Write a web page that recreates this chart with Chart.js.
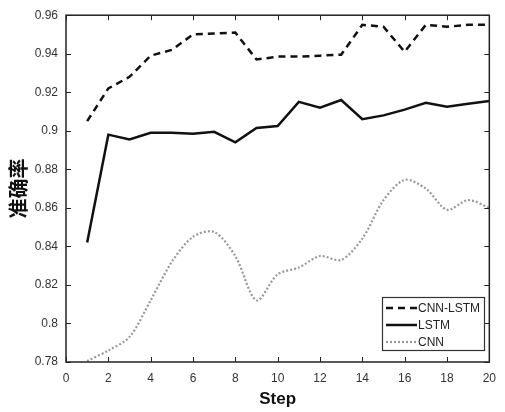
<!DOCTYPE html>
<html><head><meta charset="utf-8">
<script src="https://cdn.jsdelivr.net/npm/chart.js@4"></script>
<style>html,body{margin:0;padding:0;background:#fff}#wrap{width:505px;height:412px}</style>
</head><body><div id="wrap"><canvas id="c" width="505" height="412"></canvas></div>
<script>
const steps = [1,2,3,4,5,6,7,8,9,10,11,12,13,14,15,16,17,18,19,20];
const cnnLstm = [0.905,0.922,0.928,0.939,0.942,0.950,0.9505,0.951,0.937,0.9385,0.9385,0.939,0.9395,0.955,0.954,0.941,0.955,0.954,0.955,0.955];
const lstm = [0.842,0.898,0.8955,0.899,0.899,0.8985,0.8995,0.894,0.9015,0.9025,0.915,0.912,0.916,0.906,0.908,0.911,0.9145,0.9125,0.914,0.9155];
const cnn = [0.7805,0.786,0.793,0.812,0.832,0.845,0.8475,0.835,0.812,0.8255,0.829,0.835,0.833,0.844,0.864,0.8745,0.870,0.859,0.864,0.860];
const seriesNames = ['CNN-LSTM','LSTM','CNN'];
const xTicks = [0,2,4,6,8,10,12,14,16,18,20];
const yTicks = [0.78,0.80,0.82,0.84,0.86,0.88,0.90,0.92,0.94,0.96];

const boxPlugin = {
  id:'box',
  afterDatasetsDraw(chart){
    const {ctx, chartArea:a, scales:{x,y}} = chart;
    ctx.save();
    ctx.strokeStyle='#222'; ctx.lineWidth=1.5;
    ctx.strokeRect(a.left, a.top, a.right-a.left, a.bottom-a.top);
    ctx.lineWidth=1;
    const L=5;
    ctx.beginPath();
    xTicks.forEach(v=>{const px=Math.round(x.getPixelForValue(v))+0.5;
      ctx.moveTo(px,a.bottom);ctx.lineTo(px,a.bottom-L);
      ctx.moveTo(px,a.top);ctx.lineTo(px,a.top+L);});
    yTicks.forEach(v=>{const py=Math.round(y.getPixelForValue(v))+0.5;
      ctx.moveTo(a.left,py);ctx.lineTo(a.left+L,py);
      ctx.moveTo(a.right,py);ctx.lineTo(a.right-L,py);});
    ctx.stroke();
    // legend
    const lx=382, ly=297, lw=102, lh=53;
    ctx.fillStyle='#fff'; ctx.fillRect(lx,ly,lw,lh);
    ctx.strokeStyle='#333'; ctx.lineWidth=1.2; ctx.strokeRect(lx+0.5,ly+0.5,lw,lh);
    ctx.font='12px "Liberation Sans", Arial, sans-serif';
    ctx.textBaseline='middle'; ctx.fillStyle='#222';
    chart.data.datasets.forEach((ds,i)=>{
      const yy = ly+11+i*17;
      ctx.beginPath();
      ctx.strokeStyle=ds.borderColor; ctx.lineWidth=ds.borderWidth;
      ctx.setLineDash(ds.borderDash||[]);
      ctx.moveTo(lx+4,yy); ctx.lineTo(lx+35,yy); ctx.stroke();
      ctx.setLineDash([]);
      ctx.fillText(seriesNames[i], lx+36, yy+1);
    });
    ctx.restore();
  }
};

new Chart(document.getElementById('c'),{
  type:'line',
  data:{labels:steps,datasets:[
    {label:seriesNames[0],data:steps.map((s,i)=>({x:s,y:cnnLstm[i]})),borderColor:'#111',borderWidth:2.5,borderDash:[7,5],pointRadius:0,tension:0},
    {label:seriesNames[1],data:steps.map((s,i)=>({x:s,y:lstm[i]})),borderColor:'#111',borderWidth:2.5,pointRadius:0,tension:0},
    {label:seriesNames[2],data:steps.map((s,i)=>({x:s,y:cnn[i]})),borderColor:'#999',borderWidth:2.2,borderDash:[2,2],pointRadius:0,tension:0.3}
  ]},
  options:{
    responsive:false, animation:false,
    layout:{padding:{top:14,right:8,left:0,bottom:0}},
    plugins:{legend:{display:false},tooltip:{enabled:false}},
    scales:{
      x:{type:'linear',min:0,max:20,
        afterBuildTicks(s){s.ticks=xTicks.map(v=>({value:v}));},
        afterFit(s){s.height=50;},
        grid:{display:false,drawTicks:false},border:{display:false},
        ticks:{padding:9,color:'#333',font:{family:'"Liberation Sans", Arial, sans-serif',size:12},maxRotation:0},
        title:{display:true,text:'Step',color:'#111',font:{family:'"Liberation Sans", Arial, sans-serif',size:17,weight:'bold'},padding:{top:0,bottom:2}}
      },
      y:{min:0.78,max:0.96,
        afterBuildTicks(s){s.ticks=yTicks.map(v=>({value:v}));},
        afterFit(s){s.width=66;},
        grid:{display:false,drawTicks:false},border:{display:false},
        ticks:{padding:8,color:'#333',font:{family:'"Liberation Sans", Arial, sans-serif',size:12},callback:v=>String(+v.toFixed(2))},
        title:{display:true,text:'准确率',color:'#111',font:{family:'"Noto Sans CJK SC", sans-serif',size:20,weight:'bold'},padding:{top:6,bottom:0}}
      }
    }
  },
  plugins:[boxPlugin]
});
</script></body></html>
